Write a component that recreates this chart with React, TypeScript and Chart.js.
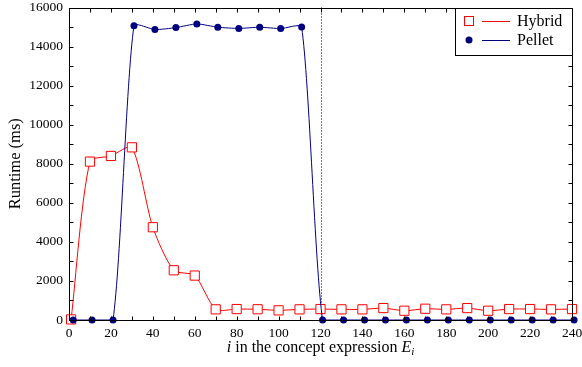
import React, { useEffect, useRef } from "react";
import { Chart, registerables } from "chart.js";

Chart.register(...registerables);

const hybridX = [1, 10, 20, 30, 40, 50, 60, 70, 80, 90, 100, 110, 120, 130, 140, 150, 160, 170, 180, 190, 200, 210, 220, 230, 240];
const hybridY = [30, 8110, 8400, 8840, 4750, 2545, 2275, 545, 560, 550, 494, 545, 560, 545, 545, 610, 475, 577, 545, 610, 475, 560, 560, 545, 560];
const pelletX = [2, 11, 21, 31, 41, 51, 61, 71, 81, 91, 101, 111, 121, 131, 141, 151, 161, 171, 181, 191, 201, 211, 221, 231, 241];
const pelletY = [0, 0, 0, 15070, 14870, 14970, 15160, 14990, 14930, 14990, 14920, 15000, 0, 0, 0, 0, 0, 0, 0, 0, 0, 0, 0, 0, 0];
const markerLineX = 120;
const xMin = 0, xMax = 240, xStep = 10, xLabelEvery = 20;
const yMin = 0, yMax = 16000, yStep = 1000, yLabelEvery = 2000;
const seriesLabels = ["Hybrid", "Pellet"];
const xTitleParts = [
  { t: "i", italic: true, sub: false },
  { t: " in the concept expression ", italic: false, sub: false },
  { t: "E", italic: true, sub: false },
  { t: "i", italic: true, sub: true },
];
const yTitle = "Runtime (ms)";

const RED = "#ff0000";
const NAVY = "#000080";
const FONT = "'Liberation Serif', 'DejaVu Serif', serif";

const framePlugin = {
  id: "frame",
  beforeDatasetsDraw(chart: any) {
    const { ctx, chartArea: a, scales } = chart;
    const xs = scales.x;
    ctx.save();
    const px = Math.round(xs.getPixelForValue(markerLineX)) + 0.5;
    ctx.strokeStyle = "#000";
    ctx.lineWidth = 1;
    ctx.setLineDash([1, 2]);
    ctx.beginPath();
    ctx.moveTo(px, a.top);
    ctx.lineTo(px, a.bottom);
    ctx.stroke();
    ctx.restore();
  },
  afterDraw(chart: any) {
    const { ctx, chartArea: a, scales } = chart;
    const xs = scales.x, ys = scales.y;
    ctx.save();
    ctx.strokeStyle = "#000";
    ctx.lineWidth = 1;
    const L = Math.round(a.left) + 0.5, R = Math.round(a.right) + 0.5;
    const T = Math.round(a.top) + 0.5, B = Math.round(a.bottom) + 0.5;
    ctx.strokeRect(L, T, R - L, B - T);
    const tl = 4;
    ctx.beginPath();
    for (const t of xs.ticks) {
      const p = Math.round(xs.getPixelForValue(t.value)) + 0.5;
      ctx.moveTo(p, B); ctx.lineTo(p, B - tl);
      ctx.moveTo(p, T); ctx.lineTo(p, T + tl);
    }
    for (const t of ys.ticks) {
      const p = Math.round(ys.getPixelForValue(t.value)) + 0.5;
      ctx.moveTo(L, p); ctx.lineTo(L + tl, p);
      ctx.moveTo(R, p); ctx.lineTo(R - tl, p);
    }
    ctx.stroke();

    // x title
    const base = 16, subSize = 11;
    const fontFor = (p: any) => `${p.italic ? "italic " : ""}${p.sub ? subSize : base}px ${FONT}`;
    let total = 0;
    for (const p of xTitleParts) { ctx.font = fontFor(p); total += ctx.measureText(p.t).width; }
    let x = (a.left + a.right) / 2 - total / 2;
    const baseline = 352;
    ctx.fillStyle = "#000";
    ctx.textBaseline = "alphabetic";
    ctx.textAlign = "left";
    for (const p of xTitleParts) {
      ctx.font = fontFor(p);
      ctx.fillText(p.t, x, p.sub ? baseline + 3 : baseline);
      x += ctx.measureText(p.t).width;
    }
    // y title
    ctx.save();
    ctx.translate(20, (a.top + a.bottom) / 2);
    ctx.rotate(-Math.PI / 2);
    ctx.font = `16.5px ${FONT}`;
    ctx.textAlign = "center";
    ctx.fillText(yTitle, 0, 0);
    ctx.restore();

    // legend
    const bx = 455.5, by = T, bw = R - bx, bh = 47;
    ctx.fillStyle = "#fff";
    ctx.fillRect(bx, by, bw, bh);
    ctx.strokeStyle = "#000";
    ctx.strokeRect(bx, by, bw, bh);
    const rows = [
      { y: 21, color: RED, kind: "rect", label: chart.data.datasets[0].label },
      { y: 40, color: NAVY, kind: "circle", label: chart.data.datasets[1].label },
    ];
    for (const r of rows) {
      if (r.kind === "rect") {
        ctx.fillStyle = "#fff";
        ctx.strokeStyle = RED;
        ctx.strokeRect(464.5, r.y - 4.5, 9, 9);
      } else {
        ctx.fillStyle = NAVY;
        ctx.beginPath();
        ctx.arc(469, r.y, 3.5, 0, Math.PI * 2);
        ctx.fill();
      }
      ctx.strokeStyle = r.color;
      ctx.beginPath();
      ctx.moveTo(482, r.y + 0.5);
      ctx.lineTo(510, r.y + 0.5);
      ctx.stroke();
      ctx.fillStyle = "#000";
      ctx.font = `${base}px ${FONT}`;
      ctx.textAlign = "left";
      ctx.textBaseline = "middle";
      ctx.fillText(r.label, 517, r.y + 1);
    }
    ctx.restore();
  },
};

export default function App() {
  const ref = useRef<HTMLCanvasElement>(null);
  useEffect(() => {
    document.body.style.margin = "0";
    const canvas = ref.current!;
    const chart = new Chart(canvas, {
      type: "line",
      data: {
        datasets: [
          {
            label: seriesLabels[0],
            data: hybridX.map((x, i) => ({ x, y: hybridY[i] })),
            borderColor: RED,
            borderWidth: 1,
            backgroundColor: "#fff",
            pointStyle: "rect",
            pointRadius: 6.5,
            pointBorderColor: RED,
            pointBackgroundColor: "#fff",
            pointBorderWidth: 1,
            tension: 0.25,
            clip: false as any,
            order: 1,
          },
          {
            label: seriesLabels[1],
            data: pelletX.map((x, i) => ({ x, y: pelletY[i] })),
            borderColor: NAVY,
            borderWidth: 1,
            backgroundColor: NAVY,
            pointStyle: "circle",
            pointRadius: 3.5,
            pointBorderColor: NAVY,
            pointBackgroundColor: NAVY,
            pointBorderWidth: 0,
            tension: 0.2,
            clip: false as any,
            order: 0,
          },
        ],
      },
      options: {
        responsive: false,
        animation: false,
        devicePixelRatio: 1,
        layout: { padding: { top: 6, right: 10, left: 0, bottom: 0 } },
        plugins: { legend: { display: false }, tooltip: { enabled: false } },
        scales: {
          x: {
            type: "linear",
            min: xMin,
            max: xMax,
            grid: { display: false, drawTicks: false },
            border: { display: false },
            ticks: {
              stepSize: xStep,
              autoSkip: false,
              maxRotation: 0,
              padding: 5,
              color: "#000",
              font: { family: FONT, size: 13.5 },
              callback: (v: any) => (Number(v) % xLabelEvery === 0 ? String(v) : ""),
            },
            afterFit: (s: any) => { s.height = 47; s.paddingLeft = 0; s.paddingRight = 0; },
          },
          y: {
            type: "linear",
            min: yMin,
            max: yMax,
            grid: { display: false, drawTicks: false },
            border: { display: false },
            ticks: {
              stepSize: yStep,
              autoSkip: false,
              padding: 6,
              color: "#000",
              font: { family: FONT, size: 13.5 },
              callback: (v: any) => (Number(v) % yLabelEvery === 0 ? String(v) : ""),
            },
            afterFit: (s: any) => { s.width = 69; s.paddingTop = 0; s.paddingBottom = 0; },
          },
        },
      },
      plugins: [framePlugin],
    });
    return () => chart.destroy();
  }, []);
  return <canvas ref={ref} width={582} height={367} style={{ display: "block" }} />;
}
